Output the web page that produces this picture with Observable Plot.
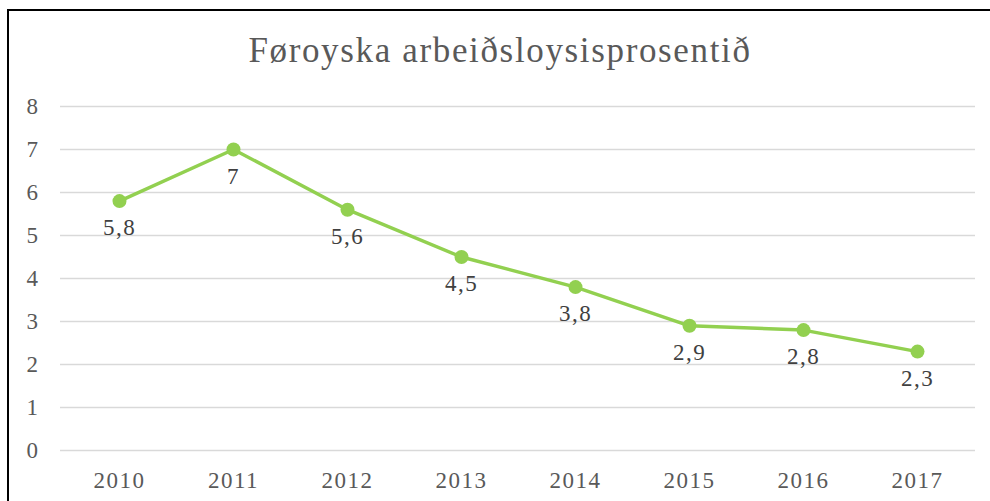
<!DOCTYPE html>
<html>
<head>
<meta charset="utf-8">
<script src="https://cdn.jsdelivr.net/npm/d3@7"></script>
<script src="https://cdn.jsdelivr.net/npm/@observablehq/plot@0.6"></script>
<style>
  html, body { margin: 0; padding: 0; width: 990px; height: 501px; overflow: hidden; background: #fff; }
  #frame { position: absolute; left: 7px; top: 9px; width: 1100px; height: 600px;
           border-left: 2px solid #000; border-top: 2px solid #000; box-sizing: border-box; }
  #title { position: absolute; left: 0; top: 31px; width: 1000px; text-align: center;
           font-family: "Liberation Serif", serif; font-size: 35px; color: #595959; line-height: 40px;
           letter-spacing: 1.65px; }
  #chart { position: absolute; left: 0; top: 90px; }
  #chart svg text { letter-spacing: 1.5px; }
</style>
</head>
<body>
<div id="frame"></div>
<div id="title">Føroyska arbeiðsloysisprosentið</div>
<div id="chart"></div>
<script>
const years = ["2010", "2011", "2012", "2013", "2014", "2015", "2016", "2017"];
const rates = [5.8, 7, 5.6, 4.5, 3.8, 2.9, 2.8, 2.3];
const yTicks = [0, 1, 2, 3, 4, 5, 6, 7, 8];

const data = years.map((year, i) => ({year, rate: rates[i]}));
const fmt = v => String(v).replace(".", ",");

const chart = Plot.plot({
  width: 990,
  height: 411,
  marginLeft: 60,
  marginRight: 15,
  marginTop: 16,
  marginBottom: 51,
  style: {fontFamily: "'Liberation Serif', serif", fontSize: "23px", background: "transparent"},
  x: {type: "point", domain: years, padding: 0.5},
  y: {domain: [0, 8]},
  marks: [
    Plot.ruleY(yTicks, {stroke: "#D9D9D9", strokeWidth: 1.5}),
    Plot.axisY(yTicks, {tickSize: 0, tickPadding: 21, fill: "#595959", fontSize: 23, label: null, tickFormat: d => d}),
    Plot.axisX({tickSize: 0, tickPadding: 21, fill: "#595959", fontSize: 23, label: null}),
    Plot.line(data, {x: "year", y: "rate", stroke: "#92D050", strokeWidth: 3.5}),
    Plot.dot(data, {x: "year", y: "rate", r: 7, fill: "#92D050", stroke: "none"}),
    Plot.text(data, {x: "year", y: "rate", text: d => fmt(d.rate), dy: 27, fill: "#404040", fontSize: 23})
  ]
});
document.getElementById("chart").appendChild(chart);
</script>
</body>
</html>
